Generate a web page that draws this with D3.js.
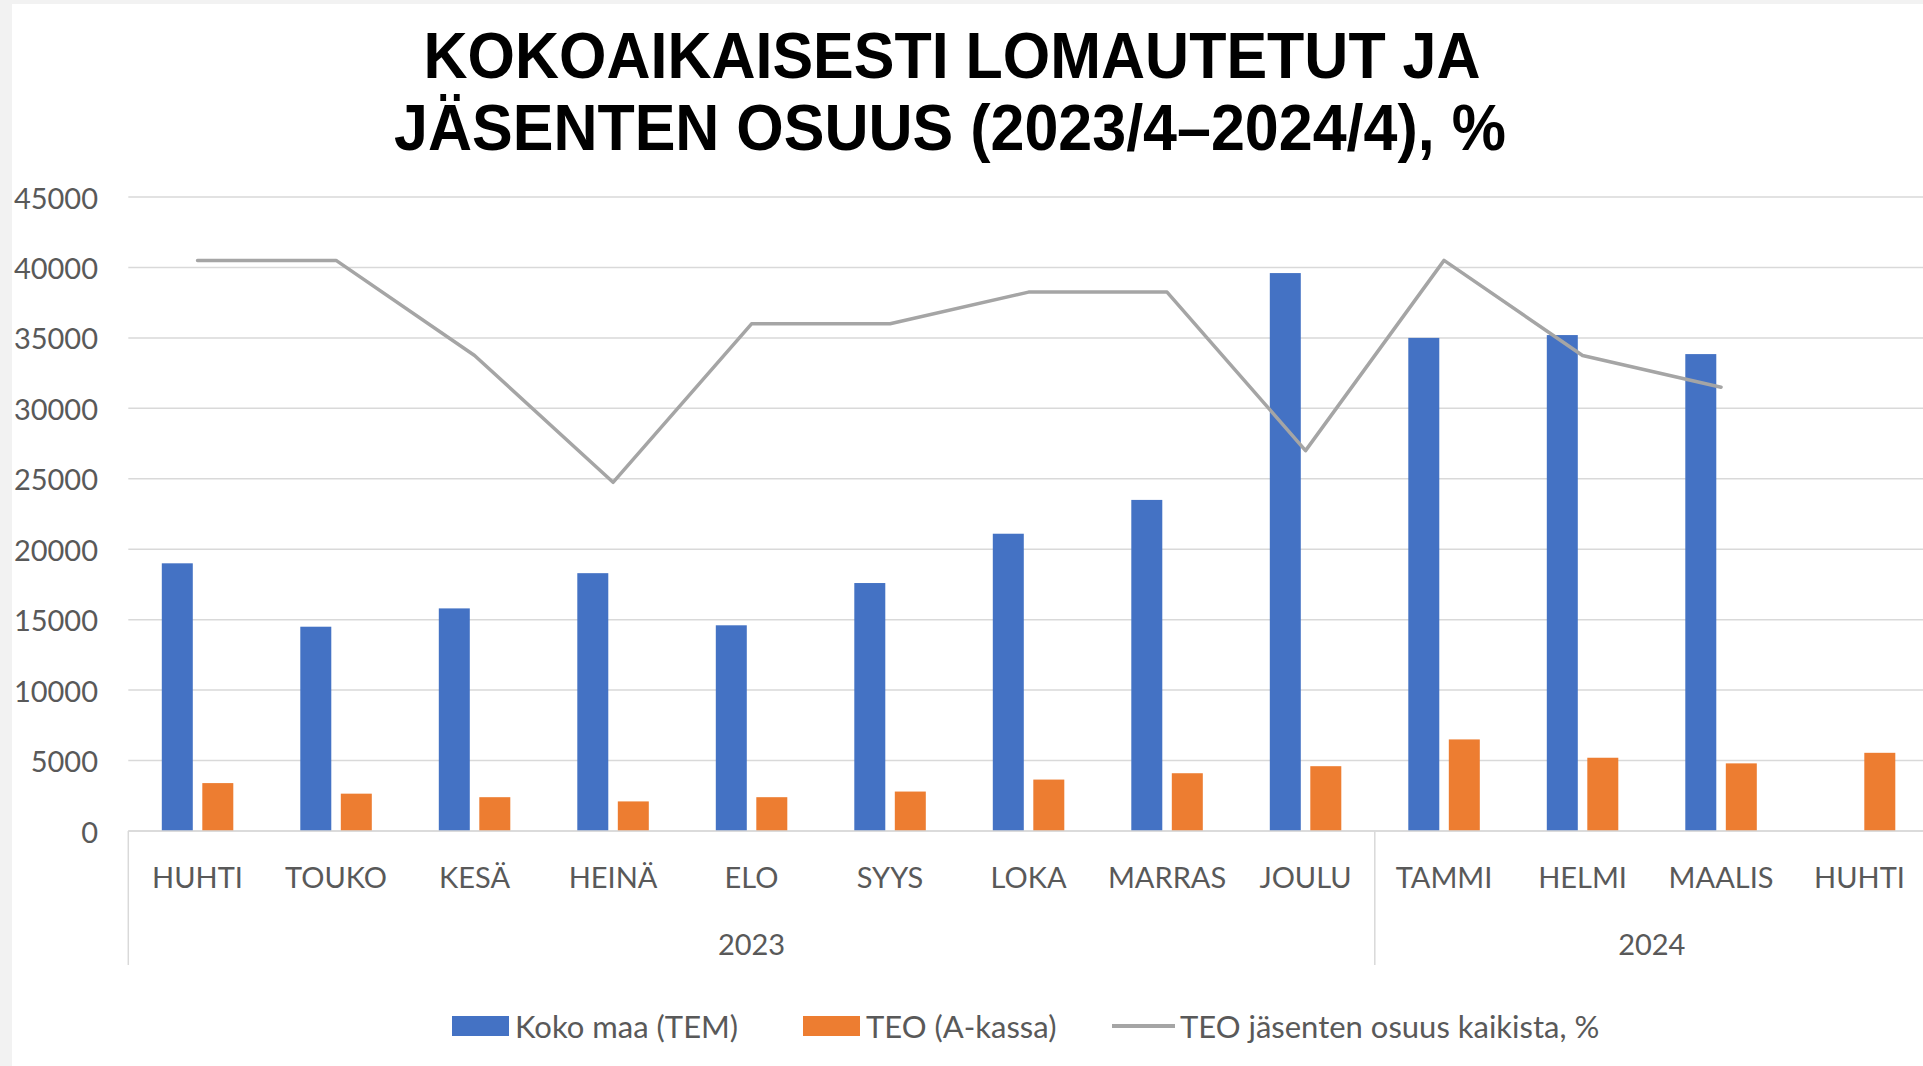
<!DOCTYPE html>
<html lang="fi">
<head>
<meta charset="utf-8">
<script src="https://d3js.org/d3.v7.min.js"></script>
<style>
  body { margin: 0; background: #f2f2f2; }
  svg { display: block; }
  .tick-label, .legend text { font-family: Lato, sans-serif; fill: #595959; }
  .title { font-family: "Liberation Sans", Arial, sans-serif; font-weight: bold; fill: #000; }
  .grid line { stroke: #d9d9d9; stroke-width: 1.5px; }
</style>
</head>
<body>
<svg width="1923" height="1066"></svg>
<script>
// data
const periods = ["2023-04","2023-05","2023-06","2023-07","2023-08","2023-09","2023-10","2023-11","2023-12","2024-01","2024-02","2024-03","2024-04"]
const monthLabels = ["HUHTI","TOUKO","KESÄ","HEINÄ","ELO","SYYS","LOKA","MARRAS","JOULU","TAMMI","HELMI","MAALIS","HUHTI"]
const kokoMaa = [19000,14500,15800,18300,14600,17600,21100,23500,39600,35000,35200,33850,null]
const teo = [3400,2650,2400,2100,2400,2800,3650,4100,4600,6500,5200,4800,5550]
const osuus = [18,18,15,11,16,16,17,17,12,18,15,14,null]   // %, secondary (hidden) axis
const yTicks = [0,5000,10000,15000,20000,25000,30000,35000,40000,45000]
const seriesNames = ["Koko maa (TEM)","TEO (A-kassa)","TEO jäsenten osuus kaikista, %"]
const colors = ["#4472c4","#ed7d31","#a5a5a5"]

const width = 1923, height = 1066
const plot = { left: 128.3, right: 1928.8, top: 197, bottom: 831 }

const svg = d3.select("svg")

// white chart area
svg.append("rect").attr("x", 12).attr("y", 4).attr("width", width).attr("height", height).attr("fill", "#fff")

// title (a little taller than the plain font, like the original)
const title = svg.append("text").attr("class", "title").attr("text-anchor", "middle").style("font-size", "61px")
  .attr("transform", "translate(0,-5) scale(1,1.065)")
title.append("tspan").attr("x", 952).attr("y", 78).text("KOKOAIKAISESTI LOMAUTETUT JA")
title.append("tspan").attr("x", 950).attr("y", 146).text("JÄSENTEN OSUUS (2023/4–2024/4), %")

const x0 = d3.scaleBand().domain(periods).range([plot.left, plot.right])
const x1 = d3.scaleBand().domain(["tem","teo"]).range([0, x0.bandwidth()]).paddingInner(0.235).paddingOuter(0.827)
const y = d3.scaleLinear().domain([0, 45000]).range([plot.bottom, plot.top])
const y2 = d3.scaleLinear().domain([0, 20]).range([plot.bottom, plot.top])

// gridlines
svg.append("g").attr("class", "grid")
  .selectAll("line").data(yTicks).join("line")
  .attr("x1", plot.left).attr("x2", width)
  .attr("y1", d => y(d)).attr("y2", d => y(d))

// y labels
svg.append("g").selectAll("text").data(yTicks).join("text")
  .attr("class", "tick-label")
  .attr("x", 98).attr("y", d => y(d))
  .attr("text-anchor", "end").attr("dominant-baseline", "central")
  .style("font-size", "29px")
  .text(d => d)

// bars
const bars = svg.append("g")
periods.forEach((p, i) => {
  const g = bars.append("g").attr("transform", `translate(${x0(p)},0)`)
  const vals = [["tem", kokoMaa[i], colors[0]], ["teo", teo[i], colors[1]]]
  g.selectAll("rect").data(vals.filter(v => v[1] != null)).join("rect")
    .attr("x", d => x1(d[0])).attr("width", x1.bandwidth())
    .attr("y", d => y(d[1])).attr("height", d => y(0) - y(d[1]))
    .attr("fill", d => d[2])
})

// share line
const line = d3.line()
  .defined(d => d.v != null)
  .x(d => x0(d.p) + x0.bandwidth() / 2)
  .y(d => y2(d.v))
svg.append("path")
  .datum(periods.map((p, i) => ({ p: p, v: osuus[i] })))
  .attr("d", line)
  .attr("fill", "none").attr("stroke", colors[2]).attr("stroke-width", 3.5)
  .attr("stroke-linejoin", "round").attr("stroke-linecap", "round")

// category axis
svg.append("line").attr("x1", plot.left).attr("x2", width).attr("y1", y(0)).attr("y2", y(0))
  .attr("stroke", "#d9d9d9").attr("stroke-width", 1.5)

svg.append("g").selectAll("text").data(periods).join("text")
  .attr("class", "tick-label")
  .attr("x", d => x0(d) + x0.bandwidth() / 2).attr("y", 876)
  .attr("text-anchor", "middle").attr("dominant-baseline", "central")
  .style("font-size", "29px")
  .text((d, i) => monthLabels[i])

const years = Array.from(d3.group(periods, p => p.slice(0, 4)), ([k, v]) => ({ year: k, first: v[0], last: v[v.length - 1] }))
const yearG = svg.append("g")
yearG.selectAll("line").data(years).join("line")
  .attr("x1", d => x0(d.first)).attr("x2", d => x0(d.first))
  .attr("y1", y(0)).attr("y2", 965)
  .attr("stroke", "#d9d9d9").attr("stroke-width", 1.5)
yearG.selectAll("text").data(years).join("text")
  .attr("class", "tick-label")
  .attr("x", d => (x0(d.first) + x0(d.last) + x0.bandwidth()) / 2).attr("y", 943)
  .attr("text-anchor", "middle").attr("dominant-baseline", "central")
  .style("font-size", "29px")
  .text(d => d.year)

// legend
const legend = svg.append("g").attr("class", "legend")
const legendX = [452, 803, 1112]
seriesNames.forEach((name, i) => {
  const g = legend.append("g").attr("transform", `translate(${legendX[i]},1026)`)
  if (i < 2) {
    g.append("rect").attr("x", 0).attr("y", -10).attr("width", 57).attr("height", 20).attr("fill", colors[i])
  } else {
    g.append("line").attr("x1", 0).attr("x2", 63).attr("stroke", colors[i]).attr("stroke-width", 4)
  }
  g.append("text").attr("x", i < 2 ? 63 : 68).attr("dominant-baseline", "central")
    .style("font-size", "31px").text(name)
})
</script>
</body>
</html>
